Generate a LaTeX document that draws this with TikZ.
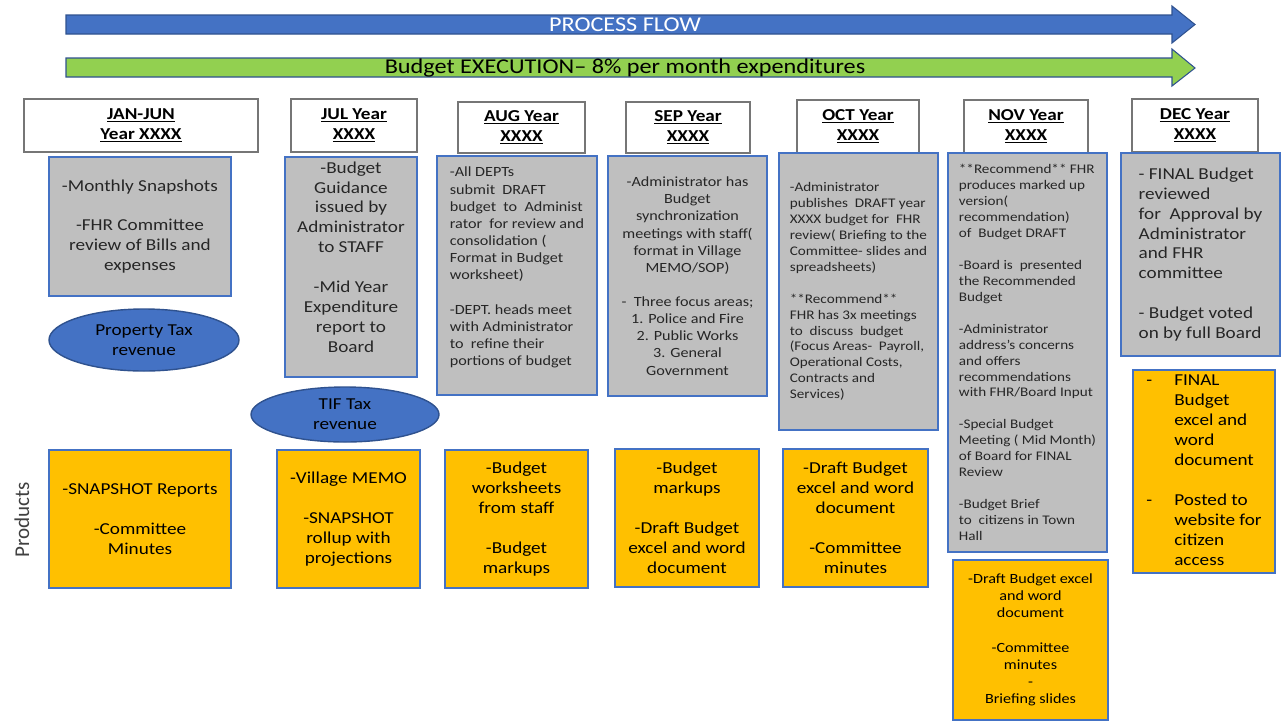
\documentclass[tikz,border=0pt]{standalone}
\usepackage{fontspec}
\setmainfont{Carlito}[FakeStretch=1.15]
\newfontfamily\uprightfont{Carlito}
\usepackage{tikz}
\usetikzlibrary{shapes.geometric}
\definecolor{flowblue}{RGB}{68,114,196}
\definecolor{edgeblue}{RGB}{47,82,143}
\definecolor{execgreen}{RGB}{146,208,80}
\definecolor{actgray}{RGB}{191,191,191}
\definecolor{prodorange}{RGB}{255,192,0}
\definecolor{hdrgray}{RGB}{118,118,118}
\newcommand{\blankline}{\\[\baselineskip]}
\tikzstyle{bigtext}=[font=\fontsize{9.5}{11.34}\selectfont]
\tikzstyle{midtext}=[font=\fontsize{8}{9.75}\selectfont]
\tikzstyle{smalltext}=[font=\fontsize{7.5}{9.07}\selectfont]
\tikzstyle{hdr}=[draw=hdrgray, line width=0.8pt, fill=white, inner sep=0pt, align=center, font=\fontsize{9.5}{11.34}\selectfont\bfseries]
\tikzstyle{act}=[draw=flowblue, line width=1pt, fill=actgray, text=black!85, inner sep=0pt]
\tikzstyle{prod}=[draw=flowblue, line width=0.8pt, fill=prodorange, inner sep=0pt]
\tikzstyle{tax}=[ellipse, draw=edgeblue, line width=0.8pt, fill=flowblue, inner sep=0pt, align=center, bigtext]
\tikzset{boxsize/.style 2 args={minimum width=#1*0.02cm, minimum height=#2*0.02cm}}

\begin{document}
\begin{tikzpicture}[x=0.02cm, y=-0.02cm]
    \useasboundingbox (0,0) rectangle (1281,721);
    % banners
    \filldraw[fill=flowblue, draw=edgeblue, line width=0.6pt] (66,15) -- (1172,15) -- (1172,6) -- (1195,24.5) -- (1172,43) -- (1172,34) -- (66,34) -- cycle;
    \filldraw[fill=execgreen, draw=edgeblue, line width=0.6pt] (66,58) -- (1172,58) -- (1172,49) -- (1195,68) -- (1172,86) -- (1172,77) -- (66,77) -- cycle;
    \node[font=\fontsize{12}{14}\selectfont, text=white] (flow) at (625,25) {PROCESS FLOW};
    \node[font=\fontsize{12}{14}\selectfont] (exec) at (625,68) {Budget EXECUTION-- 8\% per month expenditures};

    % month headers
    \node[hdr, boxsize={234}{53}] (janhdr) at (141,125.5) {\underline{JAN-JUN}\\\underline{Year XXXX}};
    \node[hdr, boxsize={126}{53}] (julhdr) at (354,125.5) {\underline{JUL Year}\\\underline{XXXX}};
    \node[hdr, boxsize={127}{51}] (aughdr) at (521.5,127.5) {\underline{AUG Year}\\\underline{XXXX}};
    \node[hdr, boxsize={124}{51}] (sephdr) at (688,127.5) {\underline{SEP Year}\\\underline{XXXX}};
    \node[hdr, boxsize={122}{53}] (octhdr) at (858,126.5) {\underline{OCT Year}\\\underline{XXXX}};
    \node[hdr, boxsize={124}{53}] (novhdr) at (1026,126.5) {\underline{NOV Year}\\\underline{XXXX}};
    \node[hdr, boxsize={126}{53}] (dechdr) at (1195,125.5) {\underline{DEC Year}\\\underline{XXXX}};

    % activities
    \node[act, bigtext, align=center, boxsize={182}{139}] (janact) at (140,226.5)
        {-Monthly Snapshots\blankline -FHR Committee\\review of Bills and\\expenses};
    \node[act, boxsize={132}{220}] (julact) at (351,267) {};
    \node[bigtext, align=center, text=black!85] (julacttext) at (351,257)
        {-Budget\\Guidance\\issued by\\Administrator\\to STAFF\blankline -Mid Year\\Expenditure\\report to\\Board};
    \node[act, boxsize={160}{239}] (augact) at (517,275.5) {};
    \node[midtext, align=left, text=black!85] (augacttext) at (517,267.5)
        {-All DEPTs\\submit\ \ DRAFT\\budget\ \ to\ \ Administ\\rator\ \ for review and\\consolidation (\\Format in Budget\\worksheet)\blankline
         -DEPT. heads meet\\with Administrator\\to\ \ refine their\\portions of budget};
    \node[act, midtext, align=center, boxsize={159}{240}] (sepact) at (687.5,276)
        {-Administrator has\\Budget\\synchronization\\meetings with staff(\\format in Village\\MEMO/SOP)\blankline
         -\ \ Three focus areas;\\1. Police and Fire\\2. Public Works\\3. General\\Government};
    \node[act, smalltext, align=left, boxsize={159}{277}] (octact) at (858.5,291.5)
        {-Administrator\\publishes\ \ DRAFT year\\XXXX budget for\ \ FHR\\review( Briefing to the\\Committee- slides and\\spreadsheets)\blankline
         **Recommend**\\FHR has 3x meetings\\to\ \ discuss\ \ budget\\(Focus Areas-\ \ Payroll,\\Operational Costs,\\Contracts and\\Services)};
    \node[act, smalltext, align=left, boxsize={159}{399}] (novact) at (1027.5,352.5)
        {**Recommend** FHR\\produces marked up\\version(\\recommendation)\\of\ \ Budget DRAFT\blankline
         -Board is\ \ presented\\the Recommended\\Budget\blankline
         -Administrator\\address's concerns\\and offers\\recommendations\\with FHR/Board Input\blankline
         -Special Budget\\Meeting ( Mid Month)\\of Board for FINAL\\Review\blankline
         -Budget Brief\\to\ \ citizens in Town\\Hall};
    \node[act, bigtext, align=left, boxsize={159}{203}] (decact) at (1200.5,254.5)
        {- FINAL Budget\\reviewed\\for\ \ Approval by\\Administrator\\and FHR\\committee\blankline - Budget voted\\on by full Board};

    % revenue sources
    \node[tax, boxsize={190}{62}] (proptax) at (144,340) {Property Tax\\revenue};
    \node[tax, boxsize={188}{55}] (tiftax) at (345,414.5) {TIF Tax\\revenue};

    % products
    \node[rotate=90, text=black!75, font=\uprightfont\fontsize{12}{14}\selectfont] (products) at (22,520) {Products};
    \node[prod, bigtext, align=center, boxsize={182}{138}] (janprod) at (140,519)
        {-SNAPSHOT Reports\blankline -Committee\\Minutes};
    \node[prod, bigtext, align=center, boxsize={143}{138}] (julprod) at (348.5,519)
        {-Village MEMO\blankline -SNAPSHOT\\rollup with\\projections};
    \node[prod, bigtext, align=center, boxsize={143}{138}] (augprod) at (516.5,519)
        {-Budget\\worksheets\\from staff\blankline -Budget\\markups};
    \node[prod, bigtext, align=center, boxsize={144}{138}] (sepprod) at (687,518)
        {-Budget\\markups\blankline -Draft Budget\\excel and word\\document};
    \node[prod, bigtext, align=center, boxsize={145}{138}] (octprod) at (855.5,518)
        {-Draft Budget\\excel and word\\document\blankline -Committee\\minutes};
    \node[prod, midtext, align=center, boxsize={155}{160}] (novprod) at (1030.5,640)
        {-Draft Budget excel\\and word\\document\blankline -Committee\\minutes\\-\\Briefing slides};
    \node[prod, bigtext, boxsize={142}{203}] (decprod) at (1204,471.5)
        {\begin{tabular}{@{}p{15.9pt}@{}l@{}}
         - & FINAL\\ & Budget\\ & excel and\\ & word\\ & document\\ & \\
         - & Posted to\\ & website for\\ & citizen\\ & access
         \end{tabular}};
\end{tikzpicture}
\end{document}
